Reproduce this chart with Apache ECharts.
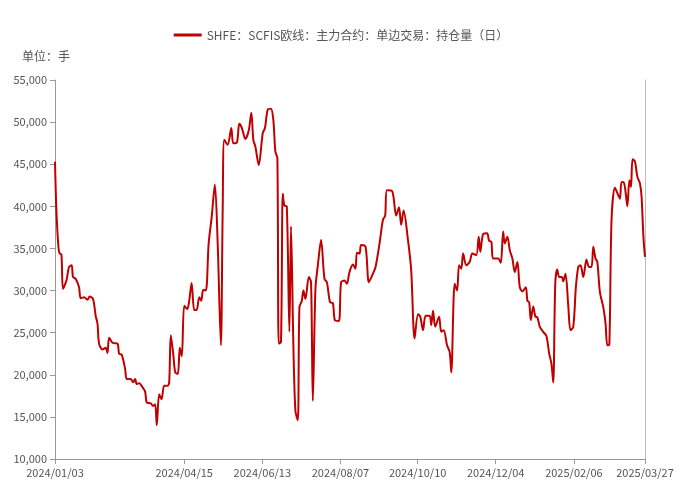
<!DOCTYPE html>
<html>
<head>
<meta charset="utf-8">
<script src="https://cdn.jsdelivr.net/npm/echarts@6/dist/echarts.min.js"></script>
<style>html,body{margin:0;padding:0;background:#fff}#chart{width:682px;height:491px}</style>
</head>
<body>
<div id="chart"></div>
<script>
// 交易日序号（从2024/01/03起）与持仓量
var dayIndex = [0,0.7,1.7,2.3,3.2,4,5.7,7,8.3,9,10.3,12,12.8,14.5,16.2,17.3,19,20.3,21.2,22,23.7,25.3,26.2,27,28.7,31.2,32,33.3,35,35.8,37.8,39,40,40.8,42,43.7,45,45.8,47.8,49,50,50.8,52,53.2,54.5,56.2,57,57.8,59,60,61.3,62.3,63.3,64.5,66,67,68.2,69.5,70.7,72,73,74,75.3,76.7,78.2,79.8,81.2,82.8,83.7,84.5,86.2,88,89,90.8,92,93.3,95,96.7,98,99,100,101.7,103.7,104.8,106.2,107.8,109,110,111,111.7,112.8,113.7,114.5,115.7,117,117.8,119,120,121.2,122,123.2,124,125,126.7,127.8,128.7,130,131.2,132.8,134.5,135.7,137.3,138.7,139.7,141.7,142.8,144.5,145.7,147,148.7,150,150.7,152,152.8,155,156.7,158.7,160,162,163.7,164.8,165.7,168.3,170.3,171.7,172.8,174,176.2,177.8,179.5,181.2,182.3,183.7,185,187,187.8,188.7,189.8,191.7,192.8,194,195.7,197,197.8,199.5,200.7,201.7,202.8,203.7,205.3,207,208.3,210.3,211.5,212.3,213.7,215.7,216.7,217.8,218.7,221.2,222.5,223.7,224.5,225.8,227,228.3,229.5,230.8,232,233.3,235,235.8,236.7,237.5,238.7,239.8,240.8,242,243.7,245.3,246.7,247.8,248.7,249.7,250.7,251.7,253,253.7,254.8,256.2,257.3,258.7,260,261.2,262.3,263.7,265.3,266.5,267.8,268.7,269.8,270.7,272,273.7,274.8,275.7,276.7,277.8,279.5,281.2,282,282.8,284,284.8,285.7,286.7,287.5,288.3,289.5,290.7,292,292.8,293.7,294.5];
var holdings = [45300,39500,35200,34400,34300,30200,31200,32800,33000,31600,31400,30400,29100,29200,28900,29300,29000,27000,26100,23700,23000,23200,22600,24400,23800,23700,22500,22400,20700,19500,19500,19100,19500,18900,19000,18500,18000,16700,16600,16300,16500,14000,17700,17100,18700,18700,19100,24700,22500,20300,20100,23200,22200,28200,27800,28800,30900,27700,27700,29200,28800,30100,30000,35600,38700,42600,35600,23500,39500,47900,47300,49300,47500,47600,49800,49300,48000,49000,51100,47900,47100,44900,48700,49300,51500,51600,50200,46500,45700,23700,23900,41500,40100,40000,25100,37600,23300,15700,14600,28000,28800,30000,29000,31600,31000,16900,30200,33000,36000,31400,31000,28600,28500,26500,26400,31000,31200,30800,32200,33100,32600,34500,34400,35400,35200,31000,32000,32800,35600,38400,38900,41900,41800,38900,39900,37800,39500,36000,32400,24300,27200,26900,25300,27000,27000,25900,27600,25700,26900,25100,25300,23500,22700,20300,30800,30000,33000,32600,34400,33000,33400,34400,34200,36400,34600,36700,36800,35900,35800,33800,33800,33300,37000,35600,36400,34800,33800,32200,33400,30400,29900,30400,28800,28600,26500,28100,26900,26800,25700,25100,24600,22500,21300,19100,30800,32500,31600,31600,31100,32000,28200,25300,25700,30400,32800,33000,31600,33700,32800,32800,35200,33800,33400,29800,28000,26100,23500,23600,38400,42200,41300,40900,42900,42800,41700,40000,43100,42300,45600,45300,43500,42700,41100,36400,34000];
var tickIndex = [0,64.5,103.5,142.5,181,220,259,294.5];
var tickLabels = ['2024/01/03','2024/04/15','2024/06/13','2024/08/07','2024/10/10','2024/12/04','2025/02/06','2025/03/27'];
var seriesName = 'SHFE：SCFIS欧线：主力合约：单边交易：持仓量（日）';

var points = [];
for (var i = 0; i < dayIndex.length; i++) {
	points.push([dayIndex[i], holdings[i]]);
}

var chart = echarts.init(document.getElementById('chart'));
var option = {
	animation: false,
	textStyle: { fontFamily: 'Noto Sans CJK SC' },
	legend: {
		top: 24, left: 'center',
		itemWidth: 28, itemHeight: 3,
		textStyle: { color: '#555', fontSize: 12 },
		data: [{ name: seriesName, icon: 'rect' }]
	},
	graphic: [{
		type: 'text', left: 22, top: 50,
		style: { text: '单位：手', fill: '#555', fontSize: 12, fontFamily: 'Noto Sans CJK SC' }
	}],
	grid: { left: 55, right: 37, top: 80, bottom: 32 },
	xAxis: {
		type: 'value', min: 0, max: 294.5,
		splitLine: { show: false },
		axisLine: { lineStyle: { color: '#999' } },
		axisTick: { show: true, customValues: tickIndex, lineStyle: { color: '#999' } },
		axisLabel: {
			customValues: tickIndex, color: '#555', fontSize: 11,
			formatter: function (v) { return tickLabels[tickIndex.indexOf(v)]; }
		}
	},
	yAxis: [{
		type: 'value', min: 10000, max: 55000, interval: 5000,
		splitLine: { show: false },
		axisLine: { show: true, lineStyle: { color: '#999' } },
		axisTick: { show: true, lineStyle: { color: '#999' } },
		axisLabel: {
			color: '#555', fontSize: 11,
			formatter: function (v) { return v.toLocaleString('en-US'); }
		}
	}, {
		type: 'value', min: 10000, max: 55000, interval: 5000,
		position: 'right',
		splitLine: { show: false },
		axisLine: { show: true, lineStyle: { color: '#bbb' } },
		axisTick: { show: false },
		axisLabel: { show: false }
	}],
	series: [{
		name: seriesName, type: 'line', data: points,
		showSymbol: false, smooth: 0.3,
		lineStyle: { color: '#c00000', width: 2 },
		itemStyle: { color: '#c00000' }
	}]
};
chart.setOption(option);
</script>
</body>
</html>
